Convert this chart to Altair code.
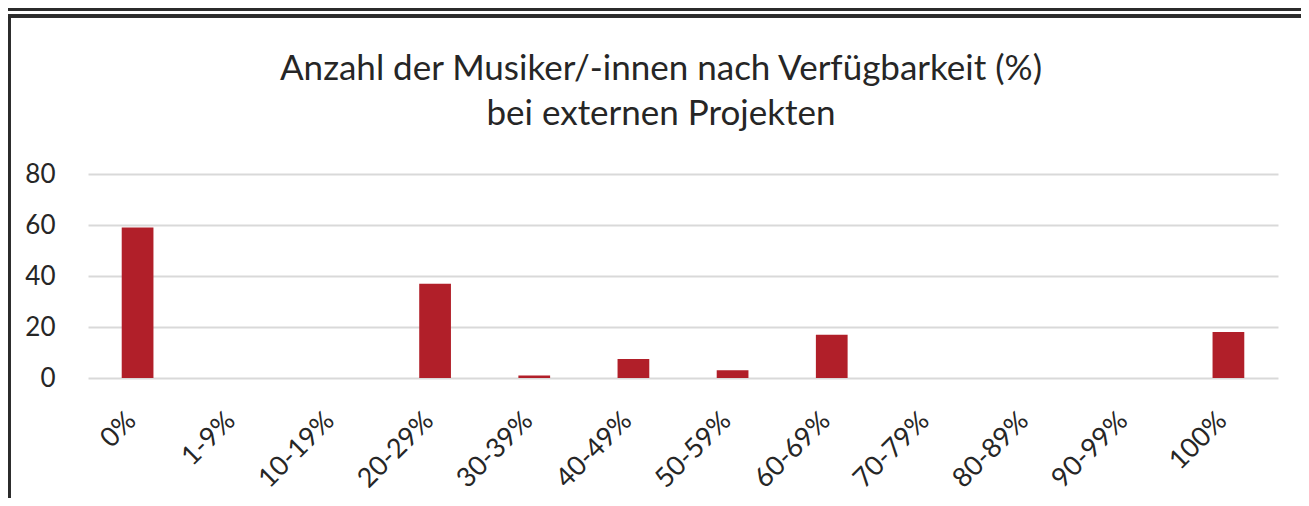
import altair as alt
import pandas as pd

categories = ["0%", "1-9%", "10-19%", "20-29%", "30-39%", "40-49%", "50-59%",
              "60-69%", "70-79%", "80-89%", "90-99%", "100%"]
values = [59, 0, 0, 37, 1, 7.5, 3, 17, 0, 0, 0, 18]
y_ticks = [0, 20, 40, 60, 80]
title_lines = ["Anzahl der Musiker/-innen nach Verfügbarkeit (%)", "bei externen  Projekten"]

df = pd.DataFrame({"cat": categories, "val": values})

FONT = "Lato"
TXT = "#262626"

bars = alt.Chart(df).mark_bar(color="#B11F29").encode(
    x=alt.X("cat:N", sort=categories,
            scale=alt.Scale(paddingInner=0.68, paddingOuter=0.34),
            axis=alt.Axis(title=None, labelAngle=-45, labelAlign="right", labelBaseline="alphabetic",
                          labelFontSize=27, labelFont=FONT, labelColor=TXT, labelPadding=44,
                          domain=False, ticks=False, grid=False)),
    y=alt.Y("val:Q", scale=alt.Scale(domain=[0, 80]),
            axis=alt.Axis(title=None, values=y_ticks, labelFontSize=26, labelFont=FONT,
                          labelColor=TXT, labelPadding=33, domain=False, ticks=False,
                          grid=True, gridColor="#d9d9d9", gridWidth=2.2)),
)

t1 = alt.Chart(pd.DataFrame({"t": [title_lines[0]]})).mark_text(
    font=FONT, fontSize=35, color=TXT, align="center", baseline="alphabetic"
).encode(text="t:N", x=alt.value(573), y=alt.value(-94))
t2 = alt.Chart(pd.DataFrame({"t": [title_lines[1]]})).mark_text(
    font=FONT, fontSize=35, color=TXT, align="center", baseline="alphabetic"
).encode(text="t:N", x=alt.value(573), y=alt.value(-49))

frame_v = alt.Chart(df).mark_rule(color="#2b2b2b", strokeWidth=2.5).encode(
    x=alt.value(-79), y=alt.value(-158), y2=alt.value(340)
)
frame_h1 = alt.Chart(df).mark_rule(color="#2b2b2b", strokeWidth=2.5).encode(
    x=alt.value(-80), x2=alt.value(1230), y=alt.value(-158)
)
frame_h0 = alt.Chart(df).mark_rule(color="#2b2b2b", strokeWidth=2.5).encode(
    x=alt.value(-80), x2=alt.value(1230), y=alt.value(-165)
)

chart = alt.layer(bars, t1, t2, frame_v, frame_h1, frame_h0).properties(
    width=1190, height=204,
    padding={"left": 80, "top": 166, "right": 23, "bottom": 120},
    autosize=alt.AutoSizeParams(type="none"),
).configure(background="white").configure_view(stroke="transparent", strokeWidth=0)

chart.save("out.html", embed_options={"renderer": "svg", "actions": False})
